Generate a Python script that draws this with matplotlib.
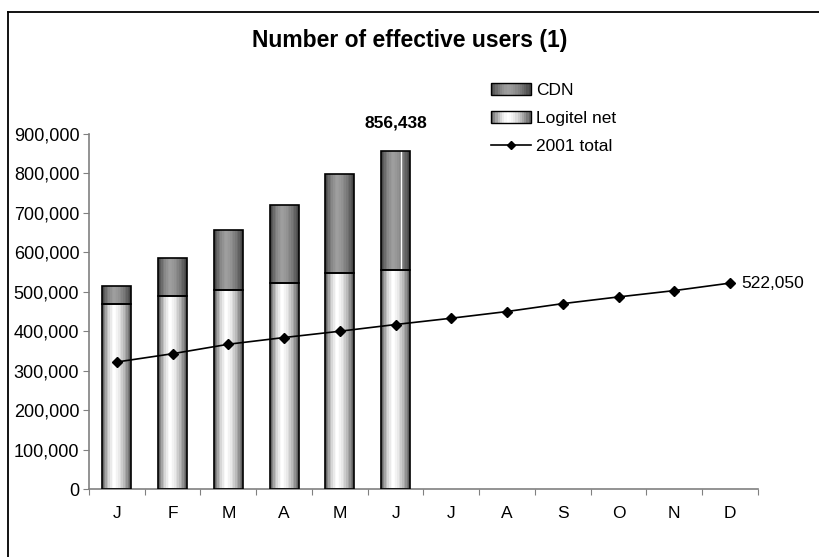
import numpy as np
import matplotlib
matplotlib.use('Agg')
from matplotlib import pyplot as plt
from matplotlib.lines import Line2D
from matplotlib.patches import Rectangle
from matplotlib.legend_handler import HandlerBase

plt.rcParams['font.family'] = ['Liberation Sans', 'DejaVu Sans']

months = ['J', 'F', 'M', 'A', 'M', 'J', 'J', 'A', 'S', 'O', 'N', 'D']
logitel = [470000, 490000, 505000, 522000, 547000, 556000]
cdn_top = [515500, 585700, 656000, 721000, 799000, 856438]
total_2001 = [322000, 343000, 367000, 384000, 400000, 417000,
              433000, 450000, 470000, 487000, 503000, 522050]
peak_label = '856,438'
end_label = '522,050'

FS = 12.5


def cylinder(lo, hi, n=18):
    # banded shading like the old excel cylinder fill
    t = (np.arange(n) + 0.5) / n
    d = np.where(t < 0.42, (0.42 - t) / 0.42, (t - 0.42) / 0.58)
    return (hi - (hi - lo) * d ** 1.6).reshape(1, -1)


LIGHT = cylinder(0.33, 1.0)
DARK = cylinder(0.25, 0.62)


class GradHandler(HandlerBase):
    def __init__(self, shade):
        super().__init__()
        self.shade = shade.ravel()

    def create_artists(self, legend, orig_handle, xdescent, ydescent,
                       width, height, fontsize, trans):
        arts = []
        n = len(self.shade)
        for i, g in enumerate(self.shade):
            arts.append(Rectangle((-xdescent + width * i / n, -ydescent), width / n, height,
                                  facecolor=str(g), edgecolor='none', transform=trans))
        arts.append(Rectangle((-xdescent, -ydescent), width, height, facecolor='none',
                              edgecolor='black', lw=1.0, transform=trans))
        return arts


fig = plt.figure(figsize=(8.2, 5.57), dpi=100)
ax = fig.add_axes([89 / 820, 1 - 489 / 557, (758 - 89) / 820, (489 - 134) / 557])

x = np.arange(len(months))
xb = x[:len(logitel)]
cdn = np.array(cdn_top) - np.array(logitel)
w = 0.52

b1 = ax.bar(xb, logitel, width=w, facecolor='none', edgecolor='black', lw=1.2, zorder=3)
b2 = ax.bar(xb, cdn, bottom=logitel, width=w, facecolor='none', edgecolor='black', lw=1.2, zorder=3)

for bars, shade in ((b1, LIGHT), (b2, DARK)):
    for r in bars:
        x0, y0 = r.get_x(), r.get_y()
        im = ax.imshow(shade, cmap='gray', vmin=0, vmax=1, aspect='auto',
                       extent=[x0, x0 + r.get_width(), y0, y0 + r.get_height()],
                       interpolation='nearest', zorder=2)
        im.set_clip_path(r)

# thin light streak in the last CDN block, as in the original
last = b2[-1]
ax.vlines(last.get_x() + 0.68 * last.get_width(), last.get_y(), last.get_y() + last.get_height(),
          color='white', lw=1.0, zorder=2.5)

ax.plot(x, total_2001, color='black', lw=1.2, marker='D', ms=5, zorder=4)

ax.set_xlim(-0.5, len(months) - 0.5)
ax.set_ylim(0, 900000)
ax.set_aspect('auto')

ax.annotate(peak_label, (xb[-1], cdn_top[-1]), xytext=(0, 20), textcoords='offset points',
            ha='center', va='center', fontsize=FS, fontweight='bold')
ax.annotate(end_label, (x[-1], total_2001[-1]), xytext=(8, 0), textcoords='offset points',
            ha='left', va='center', fontsize=FS)

ax.set_yticks(np.arange(0, 900001, 100000))
ax.set_yticklabels([f'{v:,}' for v in range(0, 900001, 100000)], fontsize=13)
ax.set_xticks(np.arange(-0.5, len(months), 1.0))
ax.set_xticklabels([])
ax.set_xticks(x, minor=True)
ax.set_xticklabels(months, minor=True, fontsize=FS)
ax.tick_params(axis='x', which='major', direction='out', length=4, color='#808080')
ax.tick_params(axis='x', which='minor', length=0, pad=12)
ax.tick_params(axis='y', direction='out', length=4, color='#808080', pad=3)

for s in ('top', 'right'):
    ax.spines[s].set_visible(False)
for s in ('left', 'bottom'):
    ax.spines[s].set_color('#808080')
    ax.spines[s].set_linewidth(1.2)

handles = [Rectangle((0, 0), 1, 1), Rectangle((0, 0), 1, 1),
           Line2D([], [], color='black', lw=1.2, marker='D', ms=4.5)]
hmap = {handles[0]: GradHandler(DARK), handles[1]: GradHandler(LIGHT)}
fig.legend(handles, ['CDN', 'Logitel net', '2001 total'], handler_map=hmap,
           loc='upper left', bbox_to_anchor=(491 / 820, 1 - 83 / 557), frameon=False,
           fontsize=FS, handlelength=2.3, handleheight=0.63, handletextpad=0.3,
           labelspacing=0.75, borderaxespad=0, borderpad=0)

fig.text(0.5, 1 - 40 / 557, 'Number of effective users (1)', ha='center', va='center',
         fontsize=16.5, fontweight='bold')

# chart area frame, only top and left edges show inside the picture
fig.add_artist(Line2D([8 / 820, 1], [1 - 11.7 / 557] * 2, color='black', lw=1.3))
fig.add_artist(Line2D([8 / 820] * 2, [1 - 11.7 / 557, 0], color='black', lw=1.3))

fig.savefig('out.png', dpi=100)
